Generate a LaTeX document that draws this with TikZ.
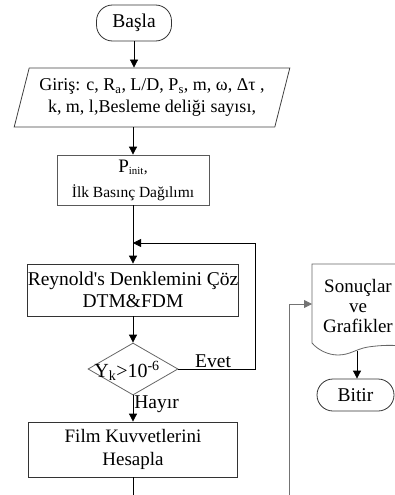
\documentclass[tikz,border=0pt]{standalone}
\usepackage{fontspec}
\setmainfont{Liberation Serif}
\usepackage{tikz}
\usetikzlibrary{arrows.meta,shapes}
\tikzstyle{terminal}=[rectangle,rounded corners=16pt,draw=black!80,inner sep=0pt,font=\fontsize{19.5}{22}\selectfont]
\tikzstyle{process}=[rectangle,draw=black!80,inner sep=0pt,align=center]
\tikzstyle{io}=[trapezium,trapezium left angle=70,trapezium right angle=110,trapezium stretches=true,draw=black!75,minimum width=276pt,minimum height=59pt,inner sep=0pt,align=center]
\tikzstyle{decision}=[diamond,draw=black!60,minimum width=90pt,minimum height=52pt,inner sep=0pt]
\tikzstyle{flow} = [draw,line width=0.8pt,-{Triangle[length=8pt,width=8pt]}]
\tikzstyle{answer} = [font=\fontsize{19.5}{22}\selectfont,inner sep=1pt]

\begin{document}
\begin{tikzpicture}[x=1pt,y=-1pt,line width=0.8pt]
    \path[use as bounding box, clip] (0,0) rectangle (395,495);

    % left column
    \node[terminal, minimum width=75pt, minimum height=36pt] (basla) at (134,23) {Başla};
    \node[io, font=\fontsize{18}{22}\selectfont] (giris) at (152,97.5)
        {Giriş: c, R\textsubscript{a}, L/D, P\textsubscript{s}, m, ω, Δτ ,\\ k, m, l,Besleme deliği sayısı,};
    \node[process, draw=black!65, minimum width=152pt, minimum height=50pt, font=\fontsize{15.5}{25}\selectfont] (pinit) at (133,180)
        {{\fontsize{19}{25}\selectfont P}\textsubscript{init},\\İlk Basınç Dağılımı};
    \node[process, minimum width=209pt, minimum height=52pt, font=\fontsize{19.5}{22}\selectfont] (reynolds) at (133,290)
        {Reynold\textquotesingle s Denklemini Çöz\\DTM\&FDM};
    \node[decision] (check) at (133,369) {};
    \node[font=\fontsize{20}{22}\selectfont, inner sep=0pt] (checktxt) at (127,371) {Y\textsubscript{k}>10\textsuperscript{-6}};
    \node[process, minimum width=209pt, minimum height=55pt, font=\fontsize{19}{23}\selectfont] (film) at (133,449.5)
        {Film Kuvvetlerini\\Hesapla};

    % right column
    \node[align=center, minimum width=92pt, minimum height=80pt, inner sep=0pt, font=\fontsize{19}{20}\selectfont] (sonuc) at (358,306)
        {Sonuçlar\\ve\\Grafikler};
    \draw[black!60] (312,264) -- (404,264) -- (404,346)
        .. controls (392,345) and (382,345) .. (368,347)
        .. controls (356,349) and (350,355) .. (338,355)
        .. controls (328,355) and (318,350) .. (312,343) -- cycle;
    \coordinate (wave) at (357,351);
    \coordinate (sonucin) at (312,304);
    \node[terminal, minimum width=77pt, minimum height=32pt] (bitir) at (355.5,395) {Bitir};

    % connectors
    \path[flow] (basla.south) -- (basla.south |- giris.north);
    \path[flow] (pinit.north |- giris.south) -- (pinit.north);
    \foreach \source/\dest in {pinit/reynolds, reynolds/check}
        \path[flow] (\source) -- (\dest);
    \path[flow] (check) -- node[answer, right, pos=0.35] {Hayır} (film);

    \coordinate (loopin) at (133,243);
    \path[flow] (check.east) -- node[answer, above, pos=0.45] {Evet} ++(77,0) |- (loopin);

    \coordinate (filmout) at (133,500);
    \draw (film.south) -- (filmout);

    \coordinate (feedin) at (289,500);
    \path[flow, black!55] (feedin) |- (sonucin);
    \path[flow] (wave) -- (wave |- bitir.north);
\end{tikzpicture}
\end{document}
